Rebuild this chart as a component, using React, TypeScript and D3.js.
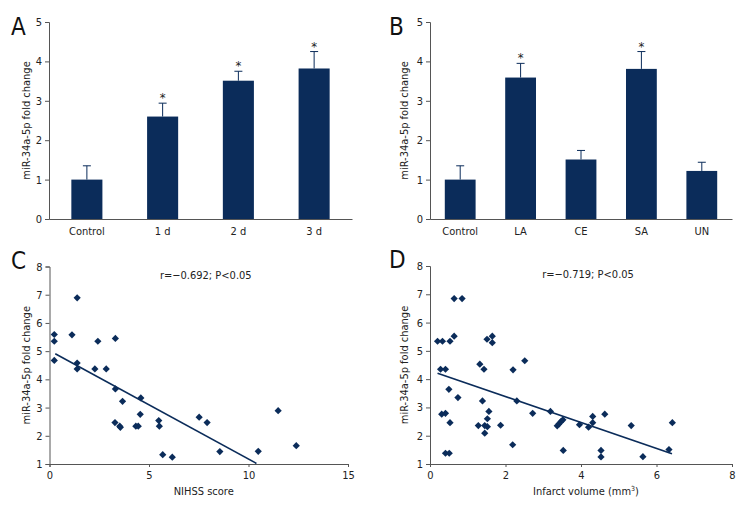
import { useEffect, useRef } from "react";
import * as d3 from "d3";

const NAVY = "#0b2c5a";
const AXIS = "#555";
const FONT = "'Liberation Sans Narrow', 'DejaVu Sans Condensed', 'Arial Narrow', sans-serif";

// Panel A
const timeCats = ["Control", "1 d", "2 d", "3 d"];
const timeMeans = [1.0, 2.6, 3.51, 3.82];
const timeErr = [1.35, 2.94, 3.75, 4.25];
const timeSig = [false, true, true, true];

// Panel B
const typeCats = ["Control", "LA", "CE", "SA", "UN"];
const typeMeans = [1.0, 3.59, 1.51, 3.81, 1.22];
const typeErr = [1.35, 3.95, 1.74, 4.25, 1.44];
const typeSig = [false, true, false, true, false];

// Panel C
const nihssX = [0.24, 0.24, 0.24, 1.39, 1.13, 1.39, 1.39, 2.43, 2.28, 2.85, 3.31, 3.31, 3.67, 3.29, 3.53, 3.56, 4.59, 4.56, 4.34, 4.46, 5.49, 5.52, 5.69, 6.17, 7.52, 7.92, 8.56, 10.49, 11.49, 12.4];
const nihssY = [5.59, 5.35, 4.67, 6.89, 5.58, 4.58, 4.37, 5.35, 4.37, 4.37, 5.45, 3.66, 3.22, 2.47, 2.34, 2.3, 3.34, 2.76, 2.34, 2.34, 2.54, 2.34, 1.33, 1.24, 2.66, 2.47, 1.44, 1.45, 2.89, 1.65];
const nihssFitX = [0.29, 10.4];
const nihssFitY = [4.91, 1.02];

// Panel D
const volX = [0.2, 0.33, 0.53, 0.28, 0.41, 0.64, 0.85, 0.64, 0.5, 0.74, 0.31, 0.41, 0.53, 0.41, 0.51, 1.51, 1.65, 1.65, 1.32, 1.43, 2.51, 2.2, 1.39, 2.3, 1.56, 1.52, 1.28, 1.45, 1.52, 1.45, 1.87, 2.19, 2.72, 3.19, 3.37, 3.42, 3.47, 3.52, 3.53, 3.96, 4.2, 4.31, 4.31, 4.63, 4.53, 4.53, 5.33, 5.64, 6.33, 6.42];
const volY = [5.34, 5.34, 5.34, 4.35, 4.35, 6.85, 6.85, 5.52, 3.64, 3.35, 2.76, 2.79, 2.46, 1.38, 1.38, 5.41, 5.52, 5.29, 4.53, 4.35, 4.65, 4.33, 3.23, 3.23, 2.86, 2.6, 2.36, 2.36, 2.32, 2.09, 2.37, 1.68, 2.79, 2.86, 2.35, 2.42, 2.5, 2.56, 1.48, 2.39, 2.3, 2.68, 2.46, 2.76, 1.48, 1.25, 2.36, 1.26, 1.51, 2.46];
const volFitX = [0.2, 6.41];
const volFitY = [4.21, 1.36];

const yLabel = "miR-34a-5p fold change";

type Sel = d3.Selection<SVGGElement, unknown, null, undefined>;

function styleAxis(ax: Sel) {
  ax.select(".domain").attr("stroke", AXIS).attr("stroke-width", 1);
  ax.selectAll(".tick line").attr("stroke", AXIS);
  ax.selectAll(".tick text").attr("fill", "#222").attr("font-size", 11).attr("font-family", FONT);
}

function barPanel(svg: d3.Selection<SVGSVGElement, unknown, null, undefined>, o: {
  cats: string[]; means: number[]; errs: number[]; sig: boolean[];
  x0: number; x1: number; y0: number; y1: number; inner: number; letter: string; lx: number; ylx: number;
}) {
  const g = svg.append("g");
  const x = d3.scaleBand<string>().domain(o.cats).range([o.x0, o.x1]).paddingInner(o.inner).paddingOuter(o.inner / 2);
  const y = d3.scaleLinear().domain([0, 5]).range([o.y0, o.y1]);
  const bw = x.bandwidth();

  o.cats.forEach((c, i) => {
    const cx = x(c)! + bw / 2;
    g.append("line").attr("x1", cx).attr("x2", cx).attr("y1", y(o.means[i])).attr("y2", y(o.errs[i]))
      .attr("stroke", NAVY).attr("stroke-width", 1);
    g.append("line").attr("x1", cx - 4).attr("x2", cx + 4).attr("y1", y(o.errs[i])).attr("y2", y(o.errs[i]))
      .attr("stroke", NAVY).attr("stroke-width", 1);
    g.append("rect").attr("x", x(c)!).attr("y", y(o.means[i])).attr("width", bw)
      .attr("height", y(0) - y(o.means[i])).attr("fill", NAVY);
    if (o.sig[i]) {
      g.append("text").attr("x", cx).attr("y", y(o.errs[i]) - 1).attr("text-anchor", "middle")
        .attr("font-size", 13).attr("font-family", FONT).attr("fill", "#222").text("*");
    }
  });

  g.append("g").attr("transform", `translate(0,${o.y0})`)
    .call(d3.axisBottom(x).tickSize(0).tickPadding(8))
    .call(styleAxis);
  g.append("g").attr("transform", `translate(${o.x0},0)`)
    .call(d3.axisLeft(y).ticks(5).tickSize(4).tickPadding(3))
    .call(styleAxis);

  g.append("text").attr("transform", `translate(${o.ylx},${(o.y0 + o.y1) / 2}) rotate(-90)`)
    .attr("text-anchor", "middle").attr("font-size", 11).attr("font-family", FONT).attr("fill", "#222").text(yLabel);
  g.append("text").attr("x", o.lx).attr("y", o.y1 + 13).attr("font-size", 24).attr("font-family", FONT)
    .attr("fill", "#111").text(o.letter);
}

function scatterPanel(svg: d3.Selection<SVGSVGElement, unknown, null, undefined>, o: {
  xs: number[]; ys: number[]; fx: number[]; fy: number[]; xmax: number; xticks: number[];
  x0: number; x1: number; y0: number; y1: number; letter: string; lx: number; ylx: number;
  stat: string; xTitle: string; sup?: string;
}) {
  const g = svg.append("g");
  const x = d3.scaleLinear().domain([0, o.xmax]).range([o.x0, o.x1]);
  const y = d3.scaleLinear().domain([1, 8]).range([o.y0, o.y1]);

  g.append("g").attr("transform", `translate(0,${o.y0})`)
    .call(d3.axisBottom(x).tickValues(o.xticks).tickSize(3).tickPadding(4))
    .call(styleAxis);
  g.append("g").attr("transform", `translate(${o.x0},0)`)
    .call(d3.axisLeft(y).ticks(8).tickSize(4).tickPadding(3))
    .call(styleAxis);

  const line = d3.line<number>().x((d) => x(d)).y((_, i) => y(o.fy[i]));
  g.append("path").datum(o.fx).attr("d", line).attr("fill", "none").attr("stroke", NAVY).attr("stroke-width", 1.6);

  const diamond = d3.symbol().type(d3.symbolSquare).size(26)();
  g.selectAll("path.pt").data(o.xs).join("path").attr("class", "pt")
    .attr("d", diamond)
    .attr("transform", (d, i) => `translate(${x(d)},${y(o.ys[i])}) rotate(45)`)
    .attr("fill", NAVY);

  g.append("text").attr("x", (o.x0 + o.x1) / 2 + 7).attr("y", o.y1 + 12).attr("text-anchor", "middle")
    .attr("font-size", 11).attr("font-family", FONT).attr("fill", "#222").text(o.stat);

  const xt = g.append("text").attr("x", (o.x0 + o.x1) / 2 + 5).attr("y", o.y0 + 31).attr("text-anchor", "middle")
    .attr("font-size", 11).attr("font-family", FONT).attr("fill", "#222");
  xt.append("tspan").text(o.xTitle);
  if (o.sup) {
    xt.append("tspan").attr("dy", -4).attr("font-size", 7).text(o.sup);
    xt.append("tspan").attr("dy", 4).text(")");
  }

  g.append("text").attr("transform", `translate(${o.ylx},${(o.y0 + o.y1) / 2}) rotate(-90)`)
    .attr("text-anchor", "middle").attr("font-size", 11).attr("font-family", FONT).attr("fill", "#222").text(yLabel);
  g.append("text").attr("x", o.lx).attr("y", o.y1 + 2).attr("font-size", 24).attr("font-family", FONT)
    .attr("fill", "#111").text(o.letter);
}

export default function App() {
  const ref = useRef<SVGSVGElement>(null);

  useEffect(() => {
    const svg = d3.select(ref.current!);
    svg.selectAll("*").remove();

    barPanel(svg, { cats: timeCats, means: timeMeans, errs: timeErr, sig: timeSig,
      x0: 49, x1: 352, y0: 219, y1: 22, inner: 0.59, letter: "A", lx: 11, ylx: 30 });
    barPanel(svg, { cats: typeCats, means: typeMeans, errs: typeErr, sig: typeSig,
      x0: 430, x1: 732, y0: 219, y1: 22, inner: 0.49, letter: "B", lx: 389, ylx: 408 });

    scatterPanel(svg, { xs: nihssX, ys: nihssY, fx: nihssFitX, fy: nihssFitY, xmax: 15, xticks: [0, 5, 10, 15],
      x0: 49.5, x1: 348, y0: 464, y1: 266.5, letter: "C", lx: 11, ylx: 30,
      stat: "r=\u22120.692; P<0.05", xTitle: "NIHSS score" });
    scatterPanel(svg, { xs: volX, ys: volY, fx: volFitX, fy: volFitY, xmax: 8, xticks: [0, 2, 4, 6, 8],
      x0: 430, x1: 732, y0: 464, y1: 266, letter: "D", lx: 389, ylx: 408,
      stat: "r=\u22120.719; P<0.05", xTitle: "Infarct volume (mm", sup: "3" });
  }, []);

  return (
    <div style={{ width: 756, height: 516, background: "#fff" }}>
      <style>{"body{margin:0}"}</style>
      <svg ref={ref} width={756} height={516} style={{ display: "block" }} />
    </div>
  );
}
